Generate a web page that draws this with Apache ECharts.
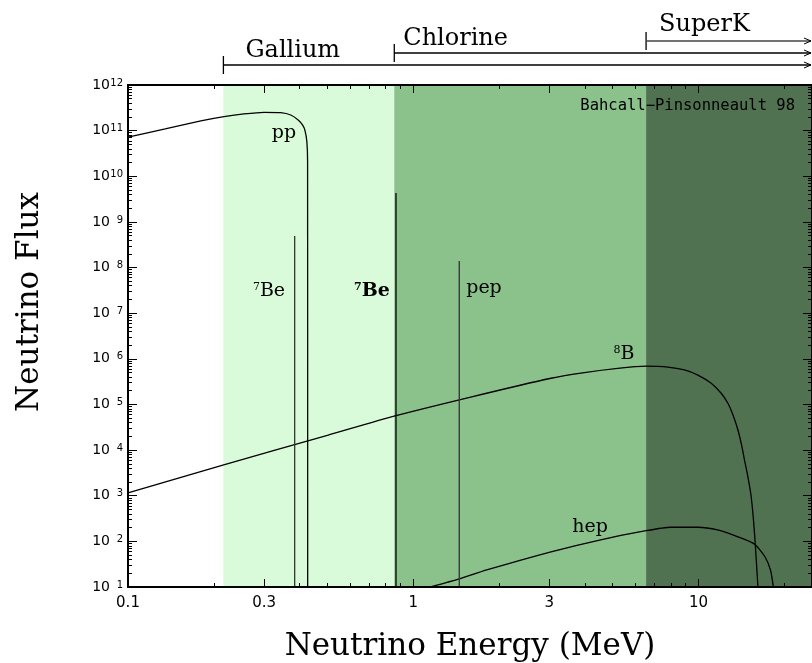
<!DOCTYPE html>
<html>
<head>
<meta charset="utf-8">
<script src="https://cdn.jsdelivr.net/npm/echarts@6/dist/echarts.min.js"></script>
<style>
  html, body { margin: 0; padding: 0; background: #fff; }
  #chart { width: 812px; height: 663px; }
</style>
</head>
<body>
<div id="chart"></div>
<script>
// axis ranges (MeV, flux)
var xMin = 0.1, xMax = 25
var yMin = 10, yMax = 1e12

// detector thresholds (MeV)
var detectors = ['Gallium', 'Chlorine', 'SuperK']
var thresholds = [0.216, 0.858, 6.55]

// pp continuum
var ppEnergy = [0.1, 0.135, 0.18, 0.217, 0.255, 0.3, 0.343, 0.372, 0.395, 0.409, 0.417, 0.4237, 0.4262, 0.4265]
var ppFlux = [7.2e10, 1.09e11, 1.63e11, 2.02e11, 2.32e11, 2.52e11, 2.47e11, 2.2e11, 1.71e11, 1.33e11, 1.03e11, 5.7e10, 2.1e10, 10]

// 8B continuum
var b8Energy = [0.1, 0.215, 0.5, 0.863, 1.59, 3.04, 3.98, 5.21, 6.55, 7.81, 8.93, 9.95, 11.08, 12.01, 12.68, 13.21, 13.75, 14.2, 14.5, 14.9, 15.3, 15.72, 16.16]
var b8Flux = [1.15e3, 4.7e3, 2.1e4, 5.6e4, 1.45e5, 3.75e5, 5.0e5, 6.2e5, 6.9e5, 6.6e5, 5.7e5, 4.4e5, 2.91e5, 1.76e5, 1.06e5, 5.9e4, 2.76e4, 1.19e4, 6.0e3, 2.6e3, 9.6e2, 1.5e2, 10]

// hep continuum
var hepEnergy = [1.15, 1.45, 1.81, 3.04, 4.5, 6.55, 7.99, 9.95, 11.66, 13.75, 15.72, 17.1, 17.9, 18.3]
var hepFlux = [10, 15, 23.6, 59, 107, 171, 204, 204, 178, 126, 87, 46, 23, 10]

// lines
var lineNames = ['7Be-low', '7Be-high', 'pep']
var lineEnergy = [0.384, 0.87, 1.45]
var lineFlux = [4.9e8, 4.3e9, 1.4e8]

// tick values
var xLabelTicks = [0.1, 0.3, 1, 3, 10]
var xMinorTicks = [0.2, 0.4, 0.5, 0.6, 0.7, 0.8, 0.9, 2, 4, 5, 6, 7, 8, 9, 20]
var yMajorTicks = []
var yMinorTicks = []
for (var k = 1; k <= 12; k++) {
  yMajorTicks.push(Math.pow(10, k))
  if (k < 12) {
    for (var m = 2; m <= 9; m++) yMinorTicks.push(m * Math.pow(10, k))
  }
}

var bandColors = ['#d9fbd9', '#8bc18a', '#517251']

function pairs(xs, ys) {
  return xs.map(function(x, i) { return [x, ys[i]] })
}

function xAxisDef(pos, ticks, len, labels) {
  return {
    type: 'log', min: xMin, max: xMax, position: pos, z: 10,
    axisLine: { show: true, onZero: false, lineStyle: { color: '#000', width: 2 } },
    axisTick: { show: true, inside: true, length: len, customValues: ticks, lineStyle: { color: '#000', width: 1 } },
    axisLabel: labels ? {
      show: true, customValues: xLabelTicks, margin: 9,
      color: '#000', fontFamily: 'DejaVu Sans', fontSize: 15,
      formatter: function(v) { return String(+v.toPrecision(3)) }
    } : { show: false },
    splitLine: { show: false }
  }
}

function yAxisDef(pos, ticks, len, labels) {
  return {
    type: 'log', min: yMin, max: yMax, position: pos, z: 10,
    axisLine: { show: true, onZero: false, lineStyle: { color: '#000', width: 2 } },
    axisTick: { show: true, inside: true, length: len, customValues: ticks, lineStyle: { color: '#000', width: 1 } },
    axisLabel: labels ? {
      show: true, customValues: yMajorTicks, margin: 5,
      formatter: function(v) {
        var e = Math.round(Math.log10(v))
        return '{b|10}{e|' + e + '}'
      },
      rich: {
        b: { fontFamily: 'DejaVu Sans', fontSize: 14, color: '#000' },
        e: { fontFamily: 'DejaVu Sans', fontSize: 10, color: '#000', verticalAlign: 'top', width: 13, align: 'right' }
      }
    } : { show: false },
    splitLine: { show: false }
  }
}

var chart = echarts.init(document.getElementById('chart'))

var curveStyle = { color: '#000', width: 1.3 }

var series = [
  {
    type: 'line', z: 1, data: [], silent: true,
    markArea: {
      silent: true,
      data: [
        [{ xAxis: thresholds[0], itemStyle: { color: bandColors[0] } }, { xAxis: thresholds[1] }],
        [{ xAxis: thresholds[1], itemStyle: { color: bandColors[1] } }, { xAxis: thresholds[2] }],
        [{ xAxis: thresholds[2], itemStyle: { color: bandColors[2] } }, { xAxis: xMax }]
      ]
    }
  },
  { name: 'pp', type: 'line', z: 3, showSymbol: false, smooth: 0.2, lineStyle: curveStyle, data: pairs(ppEnergy, ppFlux) },
  { name: '8B', type: 'line', z: 3, showSymbol: false, smooth: 0.2, lineStyle: curveStyle, data: pairs(b8Energy, b8Flux) },
  { name: 'hep', type: 'line', z: 3, showSymbol: false, smooth: 0.2, lineStyle: curveStyle, data: pairs(hepEnergy, hepFlux) }
]
lineNames.forEach(function(n, i) {
  series.push({
    name: n, type: 'line', z: 3, showSymbol: false,
    lineStyle: { color: i === 1 ? '#000' : '#333', width: 1.3 },
    data: [[lineEnergy[i], yMin], [lineEnergy[i], lineFlux[i]]]
  })
})

chart.setOption({
  animation: false,
  backgroundColor: '#fff',
  grid: { left: 128, right: 0, top: 85, bottom: 76 },
  xAxis: [
    xAxisDef('bottom', xLabelTicks, 8, true),
    xAxisDef('bottom', xMinorTicks, 4, false),
    xAxisDef('top', xLabelTicks, 8, false),
    xAxisDef('top', xMinorTicks, 4, false)
  ],
  yAxis: [
    yAxisDef('left', yMajorTicks, 9, true),
    yAxisDef('left', yMinorTicks, 4, false),
    yAxisDef('right', yMajorTicks, 9, false),
    yAxisDef('right', yMinorTicks, 4, false)
  ],
  series: series
})

// annotations
var serif = 'DejaVu Serif'
function txt(x, y, text, size, align, extra) {
  var st = { text: text, fill: '#000', fontFamily: serif, fontSize: size,
    align: align, textAlign: align, verticalAlign: 'middle', textVerticalAlign: 'middle' }
  if (extra) Object.keys(extra).forEach(function(k) { st[k] = extra[k] })
  return { type: 'text', x: x, y: y, z: 20, style: st }
}
function supLabel(x, y, sup, body, bold) {
  return txt(x, y, '{s|' + sup + '}{n|' + body + '}', 19, 'center', {
    rich: {
      s: { fontFamily: serif, fontSize: 11, fontWeight: bold ? 'bold' : 'normal', verticalAlign: 'top' },
      n: { fontFamily: serif, fontSize: 19, fontWeight: bold ? 'bold' : 'normal' }
    }
  })
}

var graphics = []
// detector ranges above the plot
var rowY = [65, 53, 41]
var textY = [51, 39, 25]
var textDx = [22, 9, 13]
var right = 811
thresholds.forEach(function(t, i) {
  var px = chart.convertToPixel({ xAxisIndex: 0 }, t)
  var y = rowY[i]
  graphics.push({ type: 'line', z: 20, shape: { x1: px, y1: y - 9, x2: px, y2: y + 9 }, style: { stroke: '#000', lineWidth: 1.3 } })
  graphics.push({ type: 'line', z: 20, shape: { x1: px, y1: y, x2: right, y2: y }, style: { stroke: i === 2 ? '#444' : '#000', lineWidth: 1.3 } })
  graphics.push({ type: 'polyline', z: 20, shape: { points: [[right - 7, y - 3], [right, y], [right - 7, y + 3]] }, style: { stroke: '#000', fill: null, lineWidth: 1 } })
  graphics.push(txt(px + textDx[i], textY[i], detectors[i], 24, 'left'))
})

graphics.push(txt(470, 647, 'Neutrino Energy (MeV)', 31, 'center'))
var yt = txt(30, 302, 'Neutrino Flux', 31, 'center')
yt.rotation = Math.PI / 2
graphics.push(yt)

graphics.push(txt(795, 106, 'Bahcall\u2212Pinsonneault 98', 15.5, 'right', { fontFamily: 'DejaVu Sans Mono' }))

graphics.push(txt(284, 133, 'pp', 19, 'center'))
graphics.push(supLabel(269, 291, '7', 'Be', false))
graphics.push(supLabel(372, 291, '7', 'Be', true))
graphics.push(txt(484, 288, 'pep', 19, 'center'))
graphics.push(supLabel(624, 354, '8', 'B', false))
graphics.push(txt(590, 527, 'hep', 19, 'center'))

chart.setOption({ graphic: graphics })
</script>
</body>
</html>
